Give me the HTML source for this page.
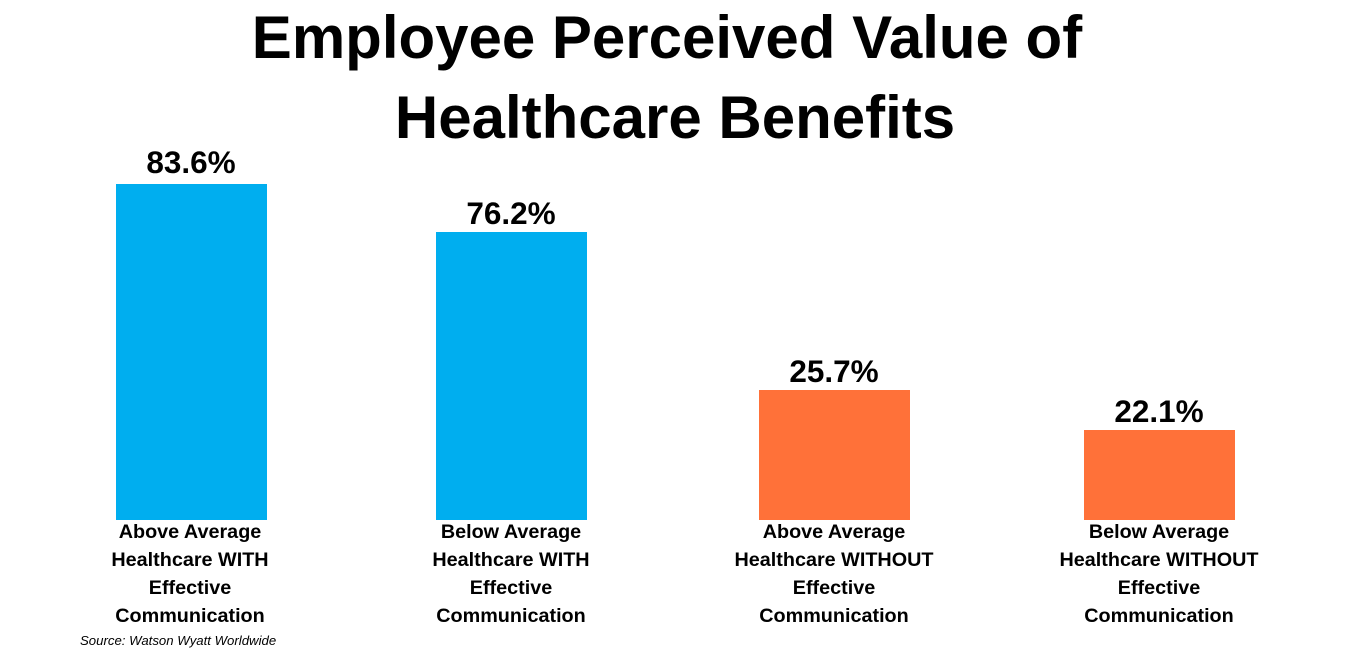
<!DOCTYPE html>
<html><head><meta charset="utf-8"><style>
body{margin:0;width:1350px;height:650px;background:#fff;position:relative;overflow:hidden;font-family:"Liberation Sans",sans-serif;color:#000}
.t{position:absolute;left:0;width:1334px;text-align:center;font-weight:bold;font-size:60px;line-height:80px}
.bar{position:absolute;width:151px;bottom:130px}
.v{position:absolute;width:200px;text-align:center;font-weight:bold;font-size:31.5px;line-height:34px}
.c{position:absolute;width:240px;text-align:center;font-weight:bold;font-size:19.8px;line-height:28px;top:518px}
.s{position:absolute;left:80px;top:633px;font-size:13.2px;font-style:italic}
</style></head><body>
<div class="t" style="top:-2px">Employee Perceived Value of</div>
<div class="t" style="top:78px;left:8px">Healthcare Benefits</div>

<div class="bar" style="left:116px;top:184px;background:#00AEEF"></div>
<div class="bar" style="left:436px;top:232px;background:#00AEEF"></div>
<div class="bar" style="left:759px;top:390px;background:#FF7139"></div>
<div class="bar" style="left:1084px;top:430px;background:#FF7139"></div>

<div class="v" style="left:91px;top:145px">83.6%</div>
<div class="v" style="left:411px;top:196px">76.2%</div>
<div class="v" style="left:734px;top:354px">25.7%</div>
<div class="v" style="left:1059px;top:394px">22.1%</div>

<div class="c" style="left:70px">Above Average<br>Healthcare WITH<br>Effective<br>Communication</div>
<div class="c" style="left:391px">Below Average<br>Healthcare WITH<br>Effective<br>Communication</div>
<div class="c" style="left:714px">Above Average<br>Healthcare WITHOUT<br>Effective<br>Communication</div>
<div class="c" style="left:1039px">Below Average<br>Healthcare WITHOUT<br>Effective<br>Communication</div>

<div class="s">Source: Watson Wyatt Worldwide</div>
</body></html>
